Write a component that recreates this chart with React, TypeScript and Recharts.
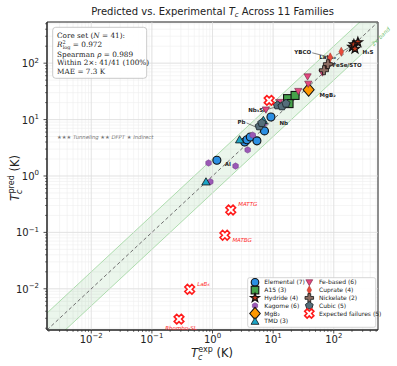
import React from 'react';
import {
  ComposedChart,
  XAxis,
  YAxis,
  CartesianGrid,
  Scatter,
  Area,
  Line,
  ReferenceLine,
  ReferenceArea,
  ReferenceDot,
} from 'recharts';

type Pt = { x: number; y: number };

// axis range (both axes, log scale)
const LO = 0.00186;
const HI = 537;
const BAND = 2;

const elemental: Pt[] = [
  { x: 1.18, y: 1.9 },
  { x: 3.4, y: 4.0 },
  { x: 3.7, y: 4.4 },
  { x: 4.2, y: 4.9 },
  { x: 5.4, y: 4.2 },
  { x: 7.2, y: 6.3 },
  { x: 9.2, y: 11.1 },
];
const a15: Pt[] = [
  { x: 17.3, y: 23.5 },
  { x: 23, y: 26.8 },
  { x: 18.3, y: 19.2 },
];
const hydride: Pt[] = [
  { x: 203, y: 195 },
  { x: 250, y: 235 },
  { x: 215, y: 215 },
  { x: 224, y: 180 },
];
const kagome: Pt[] = [
  { x: 0.86, y: 1.7 },
  { x: 2.4, y: 1.5 },
  { x: 3.8, y: 2.9 },
  { x: 0.92, y: 0.79 },
  { x: 4.6, y: 5.3 },
  { x: 7.0, y: 8.5 },
];
const mgb2: Pt[] = [{ x: 38.5, y: 33.8 }];
const tmd: Pt[] = [
  { x: 6.9, y: 9.7 },
  { x: 2.8, y: 4.4 },
  { x: 0.78, y: 0.79 },
];
const feBased: Pt[] = [
  { x: 37, y: 58 },
  { x: 38, y: 43 },
  { x: 26, y: 32 },
  { x: 12.6, y: 20.4 },
  { x: 7.6, y: 15 },
  { x: 65, y: 68 },
];
const cuprate: Pt[] = [
  { x: 74.5, y: 85 },
  { x: 82, y: 103 },
  { x: 87.5, y: 127 },
  { x: 133, y: 160 },
];
const nickelate: Pt[] = [
  { x: 80, y: 96 },
  { x: 69, y: 75 },
];
const cubic: Pt[] = [
  { x: 11.8, y: 17.9 },
  { x: 14, y: 17.2 },
  { x: 16.3, y: 19.2 },
  { x: 5.9, y: 7.6 },
  { x: 6.5, y: 8.7 },
];
const failures: Pt[] = [
  { x: 8.6, y: 21.9 },
  { x: 2.0, y: 0.25 },
  { x: 1.6, y: 0.089 },
  { x: 0.42, y: 0.0098 },
  { x: 0.28, y: 0.0029 },
];

const families = [
  { name: 'Elemental (7)', data: elemental, kind: 'circle' },
  { name: 'A15 (3)', data: a15, kind: 'square' },
  { name: 'Hydride (4)', data: hydride, kind: 'star' },
  { name: 'Kagome (6)', data: kagome, kind: 'hex' },
  { name: 'MgB₂', data: mgb2, kind: 'diamond' },
  { name: 'TMD (3)', data: tmd, kind: 'tri' },
  { name: 'Fe-based (6)', data: feBased, kind: 'tridown' },
  { name: 'Cuprate (4)', data: cuprate, kind: 'thin' },
  { name: 'Nickelate (2)', data: nickelate, kind: 'plus' },
  { name: 'Cubic (5)', data: cubic, kind: 'pent' },
  { name: 'Expected failures (5)', data: failures, kind: 'x' },
];

// named materials
const labeled = [
  { text: 'YBCO', x: 87.5, y: 127, red: false },
  { text: 'LaH₁₀', x: 250, y: 235, red: false },
  { text: 'FeSe/STO', x: 65, y: 68, red: false },
  { text: 'H₃S', x: 203, y: 195, red: false },
  { text: 'MgB₂', x: 38.5, y: 33.8, red: false },
  { text: 'Nb₃Sn', x: 18.3, y: 19.2, red: false },
  { text: 'Pb', x: 7.2, y: 6.3, red: false },
  { text: 'Nb', x: 9.2, y: 11.1, red: false },
  { text: 'Al', x: 1.18, y: 1.9, red: false },
  { text: 'MATTG', x: 2.0, y: 0.25, red: true },
  { text: 'MATBG', x: 1.6, y: 0.089, red: true },
  { text: 'LaB₆', x: 0.42, y: 0.0098, red: true },
  { text: 'Rhombo-SL', x: 0.28, y: 0.0029, red: true },
];

// label placement in px relative to the point: text offset, anchor, leader end
const labelPlace: Record<string, { dx: number; dy: number; anchor: string; lx?: number; ly?: number }> = {
  YBCO: { dx: -19, dy: -5, anchor: 'end', lx: -18, ly: -4.5 },
  'LaH₁₀': { dx: -38.5, dy: 15, anchor: 'start', lx: -22, ly: 13 },
  'FeSe/STO': { dx: 10, dy: -8, anchor: 'start', lx: 9, ly: -7 },
  'H₃S': { dx: 10, dy: 5, anchor: 'start' },
  'MgB₂': { dx: 11, dy: 5, anchor: 'start' },
  'Nb₃Sn': { dx: -22, dy: 6, anchor: 'end', lx: -21, ly: 5.5 },
  Pb: { dx: -19, dy: -9, anchor: 'end', lx: -18, ly: -8 },
  Nb: { dx: 8.5, dy: 6, anchor: 'start' },
  Al: { dx: 8, dy: 4, anchor: 'start' },
  MATTG: { dx: 7.5, dy: -5.5, anchor: 'start' },
  MATBG: { dx: 7.5, dy: 5, anchor: 'start' },
  'LaB₆': { dx: 7.5, dy: -5.5, anchor: 'start' },
  'Rhombo-SL': { dx: 2, dy: 9, anchor: 'middle' },
};

const majorTicks = [0.01, 0.1, 1, 10, 100];
const allTicks: number[] = [];
for (let e = -3; e <= 2; e++) {
  for (let m = 1; m <= 9; m++) {
    const v = m * Math.pow(10, e);
    if (v >= LO && v <= HI) allTicks.push(v);
  }
}

const bandData = [
  { x: LO, lo: LO / BAND, hi: LO * BAND, diag: LO },
  { x: HI, lo: HI / BAND, hi: HI * BAND, diag: HI },
];

function regPts(cx: number, cy: number, n: number, r: number, rot: number) {
  const out: string[] = [];
  for (let i = 0; i < n; i++) {
    const a = ((rot + (360 / n) * i) * Math.PI) / 180;
    out.push(`${cx + r * Math.cos(a)},${cy + r * Math.sin(a)}`);
  }
  return out.join(' ');
}

function starPts(cx: number, cy: number, R: number, r: number) {
  const out: string[] = [];
  for (let i = 0; i < 10; i++) {
    const a = ((-90 + 36 * i) * Math.PI) / 180;
    const rr = i % 2 ? r : R;
    out.push(`${cx + rr * Math.cos(a)},${cy + rr * Math.sin(a)}`);
  }
  return out.join(' ');
}

function crossPts(cx: number, cy: number, L: number, w: number, rot: number) {
  const base = [
    [-w, -L], [w, -L], [w, -w], [L, -w], [L, w], [w, w],
    [w, L], [-w, L], [-w, w], [-L, w], [-L, -w], [-w, -w],
  ];
  const a = (rot * Math.PI) / 180;
  return base
    .map(([px, py]) => `${cx + px * Math.cos(a) - py * Math.sin(a)},${cy + px * Math.sin(a) + py * Math.cos(a)}`)
    .join(' ');
}

function Marker({ kind, cx, cy, s = 1 }: { kind: string; cx: number; cy: number; s?: number }) {
  switch (kind) {
    case 'circle':
      return <circle cx={cx} cy={cy} r={4 * s} fill="#2b8fe3" stroke="#111" strokeWidth={1.1} />;
    case 'square':
      return <rect x={cx - 4 * s} y={cy - 4 * s} width={8 * s} height={8 * s} fill="#45a24a" stroke="#111" strokeWidth={1.1} />;
    case 'star':
      return <polygon points={starPts(cx, cy, 4.8 * s, 2 * s)} fill="#c2361a" stroke="#141010" strokeWidth={1.3} />;
    case 'hex':
      return <polygon points={regPts(cx, cy, 6, 3.2 * s, -90)} fill="#9b59b6" stroke="#6c3483" strokeWidth={0.5} />;
    case 'diamond':
      return (
        <polygon
          points={`${cx},${cy - 6.5 * s} ${cx + 5.5 * s},${cy} ${cx},${cy + 6.5 * s} ${cx - 5.5 * s},${cy}`}
          fill="#ff9800"
          stroke="#111"
          strokeWidth={1.1}
        />
      );
    case 'tri':
      return <polygon points={regPts(cx, cy + 0.8 * s, 3, 4.8 * s, -90)} fill="#1ba4c6" stroke="#111" strokeWidth={0.8} />;
    case 'tridown':
      return <polygon points={regPts(cx, cy - 0.6 * s, 3, 4.2 * s, 90)} fill="#e2477d" stroke="#6b2040" strokeWidth={0.6} />;
    case 'thin':
      return (
        <polygon
          points={`${cx},${cy - 4.5 * s} ${cx + 2.4 * s},${cy} ${cx},${cy + 4.5 * s} ${cx - 2.4 * s},${cy}`}
          fill="#e74c3c"
          stroke="#a93226"
          strokeWidth={0.5}
        />
      );
    case 'plus':
      return <polygon points={crossPts(cx, cy, 4.5 * s, 1.5 * s, 0)} fill="#8d6e63" stroke="#111" strokeWidth={0.8} />;
    case 'pent':
      return <polygon points={regPts(cx, cy, 5, 4.3 * s, -90)} fill="#546e7a" stroke="#263238" strokeWidth={1} />;
    case 'x':
      return <polygon points={crossPts(cx, cy, 5 * s, 1.8 * s, 45)} fill="#fff" stroke="#ff1a1a" strokeWidth={1.6} />;
    default:
      return null;
  }
}

function expLabel(v: number) {
  const e = Math.round(Math.log10(v));
  return e < 0 ? '−' + -e : String(e);
}

function isMajor(v: number) {
  const l = Math.log10(v);
  return Math.abs(l - Math.round(l)) < 1e-6;
}

function XTick(props: any) {
  const { x, y, payload } = props;
  const major = isMajor(payload.value);
  return (
    <g>
      <line x1={x} x2={x} y1={y} y2={y + (major ? 3.5 : 2)} stroke="#222" strokeWidth={major ? 0.8 : 0.6} />
      {major && (
        <text x={x} y={y + 12.5} textAnchor="middle" fontSize={10} fill="#222">
          10<tspan fontSize={7} dy={-4.5}>{expLabel(payload.value)}</tspan>
        </text>
      )}
    </g>
  );
}

function YTick(props: any) {
  const { x, y, payload } = props;
  const major = isMajor(payload.value);
  return (
    <g>
      <line x1={x} x2={x - (major ? 3.5 : 2)} y1={y} y2={y} stroke="#222" strokeWidth={major ? 0.8 : 0.6} />
      {major && (
        <text x={x - 8} y={y + 4} textAnchor="end" fontSize={10} fill="#222">
          10<tspan fontSize={7} dy={-4.5}>{expLabel(payload.value)}</tspan>
        </text>
      )}
    </g>
  );
}

function PointLabel(props: any) {
  const { cx, cy, item } = props;
  if (cx == null || cy == null) return null;
  const p = labelPlace[item.text];
  const tx = cx + p.dx;
  const ty = cy + p.dy;
  return (
    <g>
      {p.lx !== undefined && (
        <line x1={cx} y1={cy} x2={cx + p.lx} y2={cy + (p.ly ?? 0)} stroke={item.red ? '#ff4444' : '#333'} strokeWidth={0.6} />
      )}
      <text
        x={tx}
        y={ty}
        dy="0.35em"
        textAnchor={p.anchor}
        fontSize={5.5}
        fontWeight={item.red ? 'normal' : 'bold'}
        fontStyle={item.red ? 'italic' : 'normal'}
        fill={item.red ? '#ff2a2a' : '#222'}
      >
        {item.text}
      </text>
    </g>
  );
}

const legendLeft = families.slice(0, 6);
const legendRight = families.slice(6);
const legendRows = [282.3, 290.1, 297.9, 305.7, 313.5, 321.3];

export default function App() {
  const W = 397;
  const H = 366;
  return (
    <div style={{ position: 'absolute', left: 0, top: 0, width: W, height: H, background: '#fff', fontFamily: 'DejaVu Sans' }}>
      <ComposedChart width={W} height={H} data={bandData} margin={{ top: 22, right: 19, left: 0, bottom: 0 }} style={{ fontFamily: 'DejaVu Sans' }}>
        <CartesianGrid stroke="#efefef" strokeWidth={0.6} />
        {majorTicks.map((v) => (
          <ReferenceLine key={'gx' + v} x={v} stroke="#dddddd" strokeWidth={0.7} />
        ))}
        {majorTicks.map((v) => (
          <ReferenceLine key={'gy' + v} y={v} stroke="#dddddd" strokeWidth={0.7} />
        ))}
        <XAxis
          dataKey="x"
          type="number"
          scale="log"
          domain={[LO, HI]}
          allowDataOverflow
          ticks={allTicks}
          interval={0}
          tick={<XTick />}
          tickLine={false}
          tickSize={0}
          tickMargin={0}
          height={36}
          axisLine={{ stroke: '#222', strokeWidth: 1 }}
        />
        <YAxis
          type="number"
          scale="log"
          domain={[LO, HI]}
          allowDataOverflow
          ticks={allTicks}
          interval={0}
          tick={<YTick />}
          tickLine={false}
          tickSize={0}
          tickMargin={0}
          width={47}
          axisLine={{ stroke: '#222', strokeWidth: 1 }}
        />
        <Area
          type="linear"
          dataKey={(d: any) => [d.lo, d.hi]}
          fill="#4caf50"
          fillOpacity={0.11}
          stroke="#8fd08f"
          strokeWidth={0.7}
          isAnimationActive={false}
        />
        <Line type="linear" dataKey="diag" stroke="#6e6e6e" strokeWidth={1} strokeDasharray="3.5 2.5" dot={false} isAnimationActive={false} />
        {labeled.map((item) => (
          <ReferenceDot
            key={'lab' + item.text}
            x={item.x}
            y={item.y}
            r={0}
            ifOverflow="visible"
            shape={(p: any) => <PointLabel {...p} item={item} />}
          />
        ))}
        {families.map((f) => (
          <Scatter
            key={f.name}
            name={f.name}
            data={f.data}
            dataKey="y"
            isAnimationActive={false}
            shape={(p: any) => <Marker kind={f.kind} cx={p.cx} cy={p.cy} />}
          />
        ))}
        <ReferenceArea x1={LO} x2={HI} y1={LO} y2={HI} fill="none" stroke="#222" strokeWidth={1} ifOverflow="visible" />
      </ComposedChart>

      <svg width={W} height={H} style={{ position: 'absolute', left: 0, top: 0, pointerEvents: 'none', fontFamily: 'DejaVu Sans' }}>
        <text x={212.5} y={15} textAnchor="middle" fontSize={10} fill="#222">
          Predicted vs. Experimental <tspan fontStyle="italic">T</tspan>
          <tspan fontStyle="italic" fontSize={7} dy={2}>c</tspan>
          <tspan dy={-2}> Across 11 Families</tspan>
        </text>

        <text x={212} y={357} textAnchor="middle" fontSize={11.5} fill="#222">
          <tspan fontStyle="italic">T</tspan>
          <tspan fontStyle="italic" fontSize={8} dy={3}>c</tspan>
          <tspan fontSize={8} dx={-4} dy={-8}>exp</tspan>
          <tspan dy={5}> (K)</tspan>
        </text>
        <text transform="translate(19,178) rotate(-90)" textAnchor="middle" fontSize={11.5} fill="#222">
          <tspan fontStyle="italic">T</tspan>
          <tspan fontStyle="italic" fontSize={8} dy={3}>c</tspan>
          <tspan fontSize={8} dx={-4} dy={-8}>pred</tspan>
          <tspan dy={5}> (K)</tspan>
        </text>

        <text transform="translate(382,38) rotate(-45)" textAnchor="middle" fontSize={5.5} fill="#6cc06c" fontStyle="italic">
          2× band
        </text>

        <rect x={52.7} y={27.3} width={94} height={51} rx={3} fill="#fff" fillOpacity={0.9} stroke="#bbb" strokeWidth={0.8} />
        <g fontFamily="DejaVu Serif" fontSize={7.3} fill="#222">
          <text x={57} y={37.7}>
            Core set (<tspan fontStyle="italic">N</tspan> = 41):
          </text>
          <text x={57} y={47}>
            <tspan fontStyle="italic">R</tspan>
            <tspan fontSize={5} dy={-3}>2</tspan>
            <tspan fontSize={5} dx={-3} dy={5}>log</tspan>
            <tspan dy={-2}> = 0.972</tspan>
          </text>
          <text x={57} y={56.7}>
            Spearman <tspan fontStyle="italic">ρ</tspan> = 0.989
          </text>
          <text x={57} y={65.4}>Within 2×: 41/41 (100%)</text>
          <text x={57} y={74.4}>MAE = 7.3 K</text>
        </g>

        <text x={57} y={139} fontSize={5.3} fontStyle="italic" fill="#777">
          ★★★ Tunneling  ★★ DFPT  ★ Indirect
        </text>

        <rect x={247.7} y={277.7} width={128} height={49.6} rx={2} fill="#fff" fillOpacity={0.92} stroke="#ccc" strokeWidth={0.8} />
        {legendLeft.map((f, i) => (
          <g key={'ll' + f.name}>
            <Marker kind={f.kind} cx={255} cy={legendRows[i]} s={0.95} />
            <text x={264.3} y={legendRows[i]} dy="0.35em" fontSize={6} fill="#222">
              {f.name}
            </text>
          </g>
        ))}
        {legendRight.map((f, i) => (
          <g key={'lr' + f.name}>
            <Marker kind={f.kind} cx={309.3} cy={legendRows[i]} s={0.95} />
            <text x={319} y={legendRows[i]} dy="0.35em" fontSize={6} fill="#222">
              {f.name}
            </text>
          </g>
        ))}
      </svg>
    </div>
  );
}
